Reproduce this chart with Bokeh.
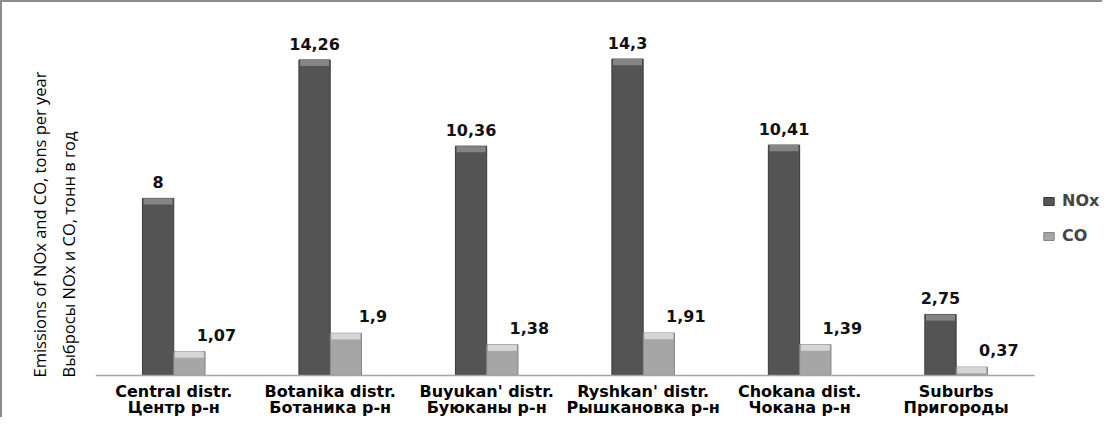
from bokeh.plotting import figure
from bokeh.models import (Range1d, ColumnDataSource, Legend, LegendItem, Title, FixedTicker)
from bokeh.transform import dodge
from bokeh.core.properties import value
from bokeh.embed import file_html
from bokeh.resources import INLINE

# ---- data ----
districts = [
    "Central distr.\nЦентр р-н",
    "Botanika distr.\nБотаника р-н",
    "Buyukan' distr.\nБуюканы р-н",
    "Ryshkan' distr.\nРышкановка р-н",
    "Chokana dist.\nЧокана р-н",
    "Suburbs\nПригороды",
]
nox = [8, 14.26, 10.36, 14.3, 10.41, 2.75]
co = [1.07, 1.9, 1.38, 1.91, 1.39, 0.37]
series_names = ["NOx", "CO"]
ytitle_en = "Emissions of NOx and CO, tons per year"
ytitle_ru = "Выбросы NOx и CO, тонн в год"


def fmt(v):
    return f"{v:g}".replace(".", ",")


idx = list(range(len(districts)))
BEVEL = 0.28
src = ColumnDataSource(dict(
    idx=idx,
    nox=nox,
    co=co,
    nox_b=[max(v - BEVEL, 0) for v in nox],
    co_b=[max(v - BEVEL, 0) for v in co],
    nox_lbl=[fmt(v) for v in nox],
    co_lbl=[fmt(v) for v in co],
))

# plot area: 6 categories over 937 px, extra room at right for the legend
UNIT = 937 / len(districts)
FRAME_W = 1100 - 93 - 2
x_start = -0.5
x_end = x_start + FRAME_W / UNIT
# frame runs down to the bottom edge; the category axis sits at y = 0 inside it
Y_BELOW = 2.0

p = figure(x_range=Range1d(x_start, x_end), y_range=Range1d(-Y_BELOW, 15.5),
           width=1102, height=417, output_backend="svg", toolbar_location=None,
           min_border_left=93, min_border_right=2, min_border_top=30,
           min_border_bottom=0)
p.outline_line_color = None
p.xgrid.visible = False
p.ygrid.visible = False
p.yaxis.visible = False
p.styles = {"border-top": "2px solid #8c8c8c", "border-left": "2px solid #8c8c8c"}

xn = dodge("idx", -0.1)
xc = dodge("idx", 0.1)

r_nox = p.vbar(x=xn, top="nox", width=0.2, source=src,
               fill_color="#545454", line_color="#3a3a3a", line_width=1)
p.vbar(x=xn, top="nox", bottom="nox_b", width=0.185, source=src,
       fill_color="#858585", line_color=None)
r_co = p.vbar(x=xc, top="co", width=0.2, source=src,
              fill_color="#a6a6a6", line_color="#858585", line_width=1)
p.vbar(x=xc, top="co", bottom="co_b", width=0.185, source=src,
       fill_color="#d6d6d6", line_color=None)

p.text(x=xn, y="nox", text="nox_lbl", source=src, text_align="center",
       text_baseline="bottom", y_offset=-10, text_font=value("DejaVu Sans"),
       text_font_style="bold", text_font_size="16px", text_color="#111111")
p.text(x=xc, y="co", text="co_lbl", source=src, text_align="center",
       text_baseline="bottom", x_offset=27, y_offset=-11,
       text_font=value("DejaVu Sans"), text_font_style="bold",
       text_font_size="16px", text_color="#111111")

ax = p.xaxis[0]
ax.fixed_location = 0
ax.ticker = FixedTicker(ticks=idx)
ax.major_label_overrides = {i: name for i, name in zip(idx, districts)}
ax.bounds = (x_start, len(districts) - 0.5)
ax.axis_line_color = "#a6a6a6"
ax.axis_line_width = 1.5
ax.major_tick_line_color = None
ax.minor_tick_line_color = None
ax.major_tick_out = 0
ax.major_tick_in = 0
ax.major_label_text_font = "DejaVu Sans"
ax.major_label_text_font_style = "bold"
ax.major_label_text_font_size = "16px"
ax.major_label_text_line_height = 0.82
ax.major_label_text_color = "#000000"
ax.major_label_standoff = 7

legend = Legend(items=[LegendItem(label=series_names[0], renderers=[r_nox]),
                       LegendItem(label=series_names[1], renderers=[r_co])],
                location=(947, 174), orientation="vertical")
legend.border_line_color = None
legend.background_fill_alpha = 0
legend.margin = 0
legend.padding = 0
legend.glyph_width = 13
legend.glyph_height = 10
legend.label_height = 17
legend.spacing = 16
legend.label_standoff = 7
legend.label_text_font = "DejaVu Sans"
legend.label_text_font_style = "bold"
legend.label_text_font_size = "16px"
p.add_layout(legend, "center")

p.add_layout(Title(text=ytitle_en + "\n" + ytitle_ru, align="left", standoff=31,
                   offset=42, text_line_height=1.25,
                   text_font="Open Sans", text_font_size="16.5px",
                   text_font_style="normal", text_color="#000000"), "left")

open("out.html", "w").write(file_html(p, INLINE))
